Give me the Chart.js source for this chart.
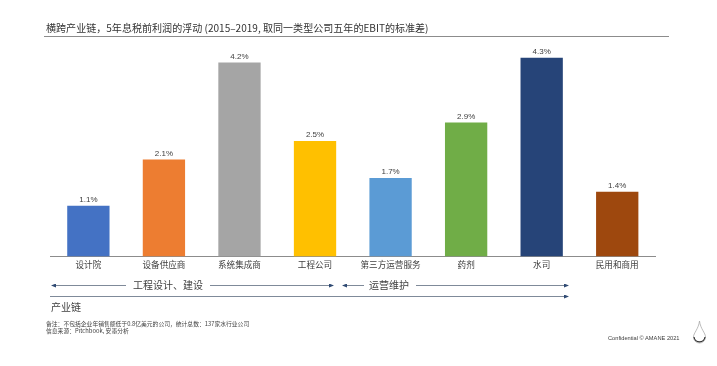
<!DOCTYPE html>
<html lang="zh">
<head>
<meta charset="utf-8">
<title>横跨产业链</title>
<script src="https://cdn.jsdelivr.net/npm/chart.js@4/dist/chart.umd.min.js"></script>
<style>
    html, body { margin: 0; padding: 0; background: #fff; }
    #page { position: relative; width: 717px; height: 366px; overflow: hidden; font-family: "Noto Sans CJK SC", "Liberation Sans", sans-serif; color: #404040; }
    #page canvas { position: absolute; left: 0; top: 0; }
    #page svg { position: absolute; left: 0; top: 0; }
    .txt { position: absolute; white-space: nowrap; line-height: 1; }
</style>
</head>
<body>
<div id="page">
    <canvas id="floatChart" width="717" height="366"></canvas>
    <svg width="717" height="366">
        <defs>
            <marker id="tip" markerWidth="5" markerHeight="4" refX="4" refY="2" orient="auto-start-reverse">
                <path d="M0,0 L5,2 L0,4 Z" fill="#2f4a73"></path>
            </marker>
        </defs>
        <line x1="44" y1="36.5" x2="669" y2="36.5" stroke="#8c8c8c" stroke-width="1"></line>
        <g stroke="#7f8a99" stroke-width="1">
            <line x1="52" y1="285.5" x2="126" y2="285.5" marker-start="url(#tip)"></line>
            <line x1="210" y1="285.5" x2="333" y2="285.5" marker-end="url(#tip)"></line>
            <line x1="343" y1="285.5" x2="364" y2="285.5" marker-start="url(#tip)"></line>
            <line x1="416" y1="285.5" x2="568" y2="285.5" marker-end="url(#tip)"></line>
            <line x1="50" y1="296.5" x2="568" y2="296.5" marker-end="url(#tip)"></line>
        </g>
        <g fill="none">
            <path d="M699.5,321 C698.5,329 693.5,333 693.5,337 A6,6 0 0 0 705.5,337 C705.5,333 700.5,329 699.5,321 Z" stroke="#aaa" stroke-width="0.8"></path>
            <path d="M694,337 A5.6,6 0 0 0 705,337" stroke="#333" stroke-width="1.2"></path>
        </g>
    </svg>
    <div class="txt" style="left:46px;top:23px;font-size:10.05px;color:#333;">横跨产业链，5年息税前利润的浮动 (2015–2019, 取同一类型公司五年的EBIT的标准差)</div>
    <div class="txt" style="left:133px;top:280px;font-size:10px;">工程设计、建设</div>
    <div class="txt" style="left:369px;top:280px;font-size:10px;">运营维护</div>
    <div class="txt" style="left:51px;top:302px;font-size:10px;">产业链</div>
    <div class="txt" style="left:46px;top:321px;font-size:5.8px;">备注：不包括企业年销售额低于0.8亿美元的公司，统计总数：137家水行业公司</div>
    <div class="txt" style="left:46px;top:328px;font-size:5.8px;">信息来源：Pitchbook, 安墨分析</div>
    <div class="txt" style="left:608px;top:335.5px;font-size:5.7px;font-family:'Liberation Sans',sans-serif;">Confidential © AMANE 2021</div>
</div>
<script>
const categories = ['设计院', '设备供应商', '系统集成商', '工程公司', '第三方运营服务', '药剂', '水司', '民用和商用'];
const ebitStd = [1.1, 2.1, 4.2, 2.5, 1.7, 2.9, 4.3, 1.4];
const barColors = ['#4472c4', '#ed7d31', '#a5a5a5', '#ffc000', '#5b9bd5', '#70ad47', '#264478', '#9e480e'];

// 柱顶数值标签
const valueLabels = {
    id: 'valueLabels',
    afterDatasetsDraw(chart) {
        const ctx = chart.ctx;
        ctx.save();
        ctx.font = '8px "Liberation Sans", sans-serif';
        ctx.fillStyle = '#404040';
        ctx.textAlign = 'center';
        ctx.textBaseline = 'bottom';
        chart.getDatasetMeta(0).data.forEach((bar, i) => {
            ctx.fillText(ebitStd[i].toFixed(1) + '%', bar.x, bar.y - 2);
        });
        ctx.restore();
    }
};

new Chart(document.getElementById('floatChart'), {
    type: 'bar',
    data: {
        labels: categories,
        datasets: [{
            data: ebitStd,
            backgroundColor: barColors,
            barPercentage: 0.56,
            categoryPercentage: 1
        }]
    },
    options: {
        responsive: false,
        animation: false,
        layout: { padding: { left: 50.6, right: 62, top: 48.6, bottom: 0 } },
        plugins: { legend: { display: false }, tooltip: { enabled: false } },
        scales: {
            x: {
                afterFit: scale => { scale.height = 109.5; },
                grid: { display: false, drawTicks: false },
                border: { color: '#8c8c8c', width: 1 },
                ticks: {
                    color: '#404040',
                    padding: 3,
                    maxRotation: 0,
                    autoSkip: false,
                    font: { family: '"Noto Sans CJK SC"', size: 8.6 }
                }
            },
            y: { display: false, min: 0, max: 4.5 }
        }
    },
    plugins: [valueLabels]
});
</script>
</body>
</html>
